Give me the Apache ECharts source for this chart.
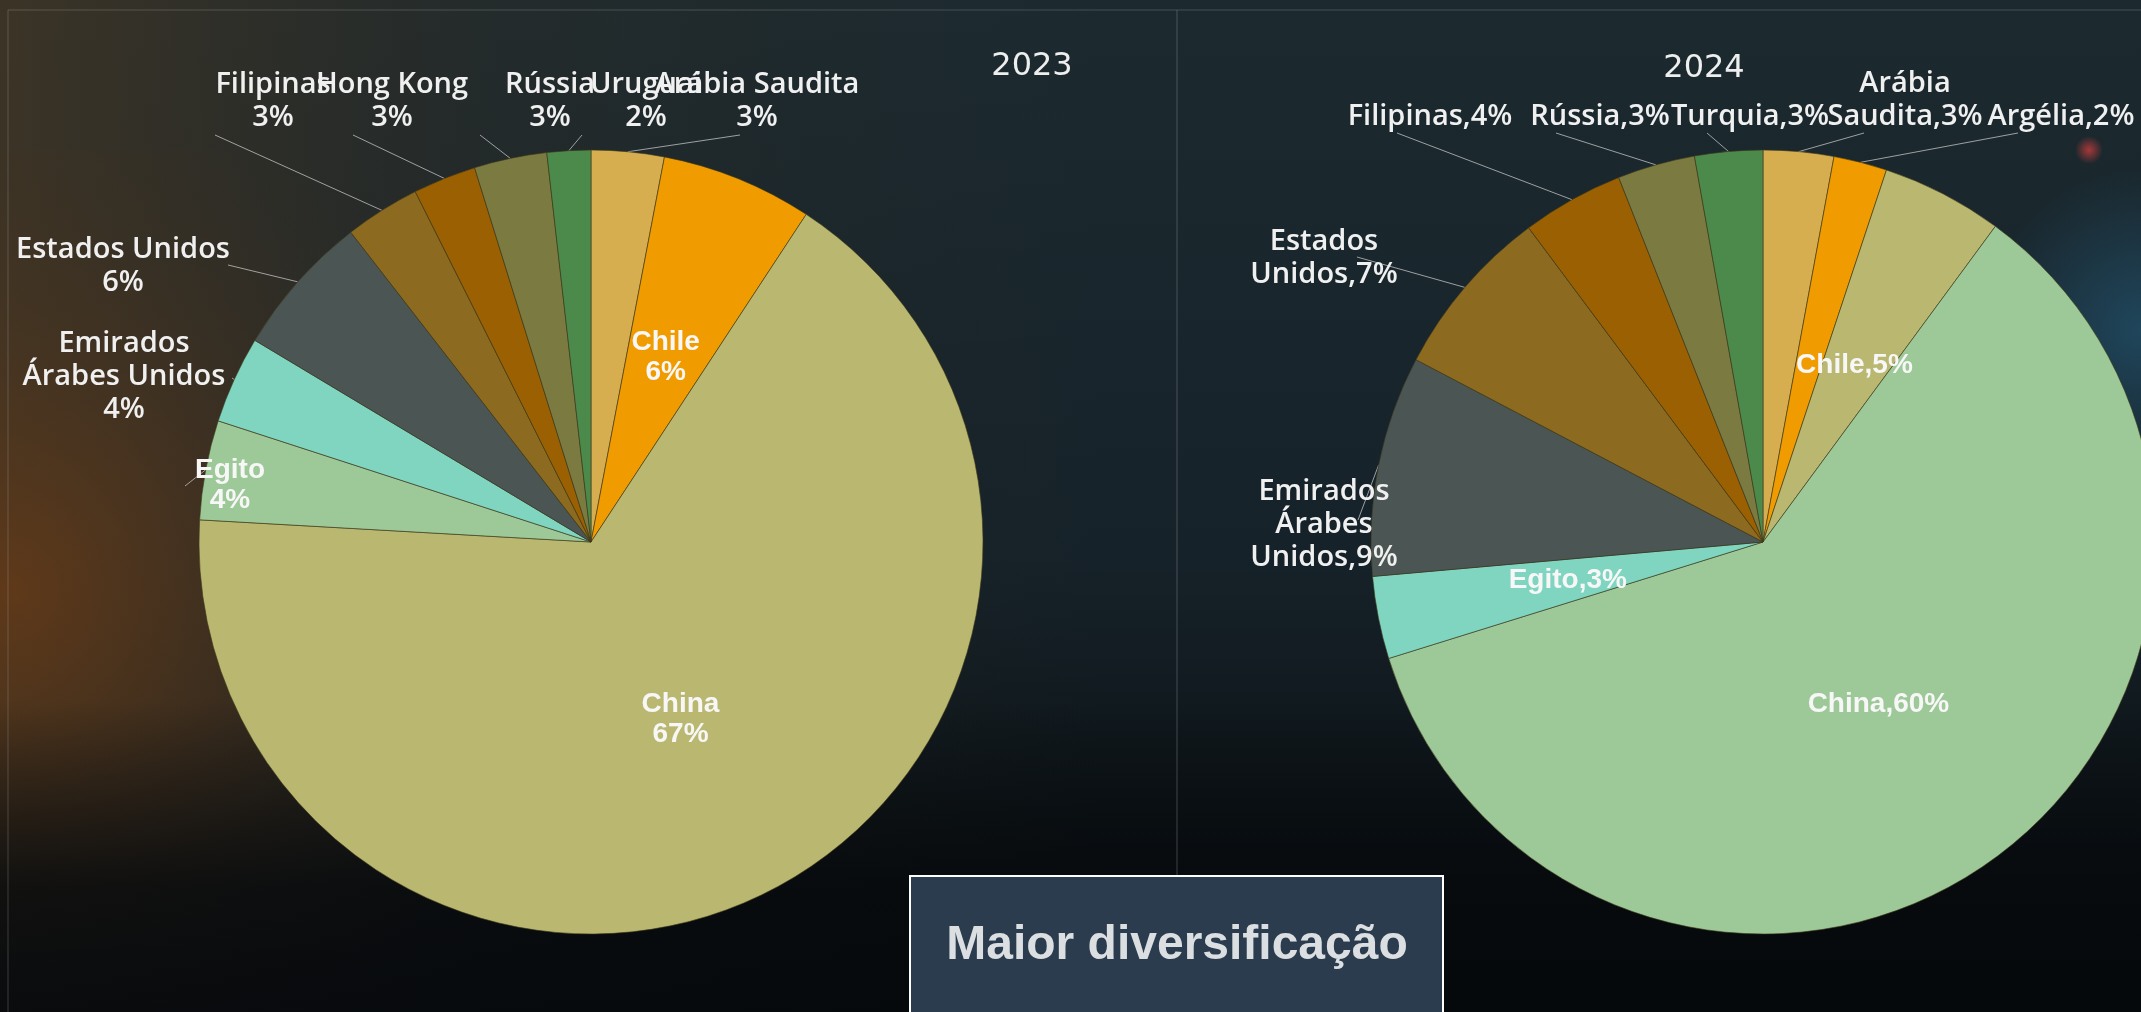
<!DOCTYPE html>
<html>
<head>
<meta charset="utf-8">
<title>Destinos 2023 x 2024</title>
<script src="https://cdn.jsdelivr.net/npm/echarts@6/dist/echarts.min.js"></script>
<style>
  html, body { margin: 0; padding: 0; background: #121c22; }
  #chart { width: 2141px; height: 1012px; }
</style>
</head>
<body>
<div id="chart"></div>
<script>
// data, clockwise from 12 o'clock
const names2023 = ['Arábia Saudita', 'Chile', 'China', 'Egito', 'Emirados Árabes Unidos', 'Estados Unidos', 'Filipinas', 'Hong Kong', 'Rússia', 'Uruguai']
const values2023 = [3.0, 6.25, 66.65, 4.1, 3.6, 5.9, 3.1, 2.6, 3.0, 1.8]

const names2024 = ['Arábia Saudita', 'Argélia', 'Chile', 'China', 'Egito', 'Emirados Árabes Unidos', 'Estados Unidos', 'Filipinas', 'Rússia', 'Turquia']
const values2024 = [2.9, 2.2, 5.0, 60.1, 3.4, 9.1, 7.1, 4.2, 3.2, 2.8]

const years = ['2023', '2024']
const boxText = 'Maior diversificação'

// slice colours go by position in each pie
const palette = ['#D6AE50', '#F09C00', '#BAB870', '#9DC897', '#7FD5C0', '#4B5553', '#8C6A1F', '#9A6001', '#7B7A41', '#4C8A4C']

// how the label texts break
const wrap2023 = { 'Emirados Árabes Unidos': 'Emirados\nÁrabes Unidos' }
const wrap2024 = {
  'Estados Unidos': 'Estados\nUnidos',
  'Emirados Árabes Unidos': 'Emirados\nÁrabes\nUnidos',
  'Arábia Saudita': 'Arábia\nSaudita'
}

const inside2023 = ['Chile', 'China']
const inside2024 = ['Chile', 'China', 'Egito']
const bold2023 = ['Egito']

// label placement: [centerX, centerY, leaderEndX, leaderEndY]
const labelPos2023 = {
  'Filipinas': [273, 101, 215, 135],
  'Hong Kong': [392, 101, 353, 135],
  'Rússia': [550, 101, 480, 135],
  'Uruguai': [646, 101, 582, 135],
  'Arábia Saudita': [757, 101, 740, 135],
  'Estados Unidos': [123, 266, 228, 265],
  'Emirados Árabes Unidos': [124, 377, 232, 378],
  'Egito': [230, 485, 185, 486]
}
const labelPos2024 = {
  'Filipinas': [1430, 117, 1397, 133],
  'Rússia': [1600, 117, 1556, 133],
  'Turquia': [1750, 117, 1707, 133],
  'Arábia Saudita': [1905, 100, 1864, 133],
  'Argélia': [2061, 117, 2018, 133],
  'Estados Unidos': [1324, 258, 1357, 257],
  'Emirados Árabes Unidos': [1324, 525, 1358, 520]
}

const outerLabel = {
  fontFamily: 'Open Sans',
  fontWeight: 600,
  fontSize: 29,
  color: '#F0F0F0',
  lineHeight: 33
}
const boldLabel = {
  fontFamily: 'Liberation Sans',
  fontWeight: 'bold',
  fontSize: 28,
  color: '#F7F7F7',
  lineHeight: 30
}

const buildData = (names, values, inside, bold) => {
  return names.map((n, i) => {
    const item = { name: n, value: values[i], itemStyle: { color: palette[i] } }
    if (inside.includes(n)) {
      item.label = Object.assign({ position: 'inside' }, boldLabel)
      item.labelLine = { show: false }
    } else if (bold.includes(n)) {
      item.label = Object.assign({}, boldLabel)
    }
    return item
  })
}

const makeLayout = (names, pos) => {
  return (params) => {
    const p = pos[names[params.dataIndex]]
    if (!p) return {}
    const res = { x: p[0], y: p[1], align: 'center', verticalAlign: 'middle' }
    if (params.labelLinePoints && params.labelLinePoints.length) {
      res.labelLinePoints = [params.labelLinePoints[0], [p[2], p[3]]]
    }
    return res
  }
}

const pieSeries = (center, names, values, inside, bold, wrap, sep, pos) => ({
  type: 'pie',
  center: center,
  radius: 392,
  startAngle: 90,
  clockwise: true,
  avoidLabelOverlap: false,
  silent: true,
  animation: false,
  data: buildData(names, values, inside, bold),
  itemStyle: {
    borderColor: 'rgba(60, 55, 25, 0.6)',
    borderWidth: 1
  },
  label: Object.assign({
    show: true,
    position: 'outside',
    align: 'center',
    formatter: (p) => (wrap[p.name] || p.name) + sep + Math.round(p.value) + '%'
  }, outerLabel),
  labelLine: {
    show: true,
    length: 10,
    length2: 10,
    lineStyle: {
      color: 'rgba(200, 200, 200, 0.75)',
      width: 1
    }
  },
  labelLayout: makeLayout(names, pos)
})

const chart = echarts.init(document.getElementById('chart'))

const option = {
  backgroundColor: '#121c22',
  animation: false,
  graphic: [
    {
      type: 'rect', z: -10, silent: true,
      shape: { x: 0, y: 0, width: 2141, height: 1012 },
      style: {
        fill: new echarts.graphic.LinearGradient(0, 0, 0, 1, [
          { offset: 0, color: '#1c2a30' },
          { offset: 0.55, color: '#162229' },
          { offset: 0.8, color: '#0d1418' },
          { offset: 1, color: '#080b0e' }
        ])
      }
    },
    {
      // warm tint over the left part of the slide
      type: 'rect', z: -9, silent: true,
      shape: { x: 0, y: 0, width: 1100, height: 1012 },
      style: {
        fill: new echarts.graphic.LinearGradient(0, 0, 1, 0, [
          { offset: 0, color: 'rgba(70, 55, 35, 0.75)' },
          { offset: 0.45, color: 'rgba(50, 45, 35, 0.35)' },
          { offset: 1, color: 'rgba(40, 40, 35, 0)' }
        ])
      }
    },
    {
      type: 'rect', z: -9, silent: true,
      shape: { x: 0, y: 150, width: 700, height: 800 },
      style: {
        fill: new echarts.graphic.RadialGradient(0.02, 0.55, 0.75, [
          { offset: 0, color: 'rgba(120, 62, 18, 0.6)' },
          { offset: 0.55, color: 'rgba(90, 55, 25, 0.25)' },
          { offset: 1, color: 'rgba(60, 45, 30, 0)' }
        ])
      }
    },
    {
      type: 'rect', z: -8, silent: true,
      shape: { x: 0, y: 700, width: 2141, height: 312 },
      style: {
        fill: new echarts.graphic.LinearGradient(0, 0, 0, 1, [
          { offset: 0, color: 'rgba(6, 9, 12, 0)' },
          { offset: 0.6, color: 'rgba(6, 9, 12, 0.8)' },
          { offset: 1, color: 'rgba(6, 9, 12, 0.92)' }
        ])
      }
    },
    {
      type: 'circle', z: -7, silent: true,
      shape: { cx: 2141, cy: 330, r: 160 },
      style: {
        fill: new echarts.graphic.RadialGradient(0.5, 0.5, 0.5, [
          { offset: 0, color: 'rgba(40, 110, 150, 0.45)' },
          { offset: 1, color: 'rgba(40, 110, 150, 0)' }
        ])
      }
    },
    {
      type: 'circle', z: -7, silent: true,
      shape: { cx: 2089, cy: 150, r: 14 },
      style: {
        fill: new echarts.graphic.RadialGradient(0.5, 0.5, 0.5, [
          { offset: 0, color: 'rgba(200, 60, 60, 0.8)' },
          { offset: 1, color: 'rgba(200, 60, 60, 0)' }
        ])
      }
    },
    {
      type: 'polyline', z: -5, silent: true,
      shape: { points: [[8, 1012], [8, 10], [2141, 10]] },
      style: { stroke: 'rgba(170, 170, 170, 0.3)', lineWidth: 1, fill: null }
    },
    {
      type: 'line', z: -5, silent: true,
      shape: { x1: 1177, y1: 10, x2: 1177, y2: 876 },
      style: { stroke: 'rgba(170, 170, 170, 0.35)', lineWidth: 1 }
    },
    {
      type: 'text', x: 1032, y: 67, z: 5, silent: true,
      style: {
        text: years[0], fill: '#EEEEEE', font: '32px "DejaVu Sans"',
        align: 'center', verticalAlign: 'middle', textAlign: 'center', textVerticalAlign: 'middle'
      }
    },
    {
      type: 'text', x: 1704, y: 69, z: 5, silent: true,
      style: {
        text: years[1], fill: '#EEEEEE', font: '32px "DejaVu Sans"',
        align: 'center', verticalAlign: 'middle', textAlign: 'center', textVerticalAlign: 'middle'
      }
    },
    {
      type: 'rect', z: 10, silent: true,
      shape: { x: 910, y: 876, width: 533, height: 160 },
      style: { fill: '#2C3C4F', stroke: '#FFFFFF', lineWidth: 2 }
    },
    {
      type: 'text', x: 1177, y: 946, z: 11, silent: true,
      style: {
        text: boxText, fill: '#DCDFE2', font: 'bold 48px "Liberation Sans"',
        align: 'center', verticalAlign: 'middle', textAlign: 'center', textVerticalAlign: 'middle'
      }
    }
  ],
  series: [
    pieSeries([591, 542], names2023, values2023, inside2023, bold2023, wrap2023, '\n', labelPos2023),
    pieSeries([1763, 542], names2024, values2024, inside2024, [], wrap2024, ',', labelPos2024)
  ]
}

chart.setOption(option)
</script>
</body>
</html>
